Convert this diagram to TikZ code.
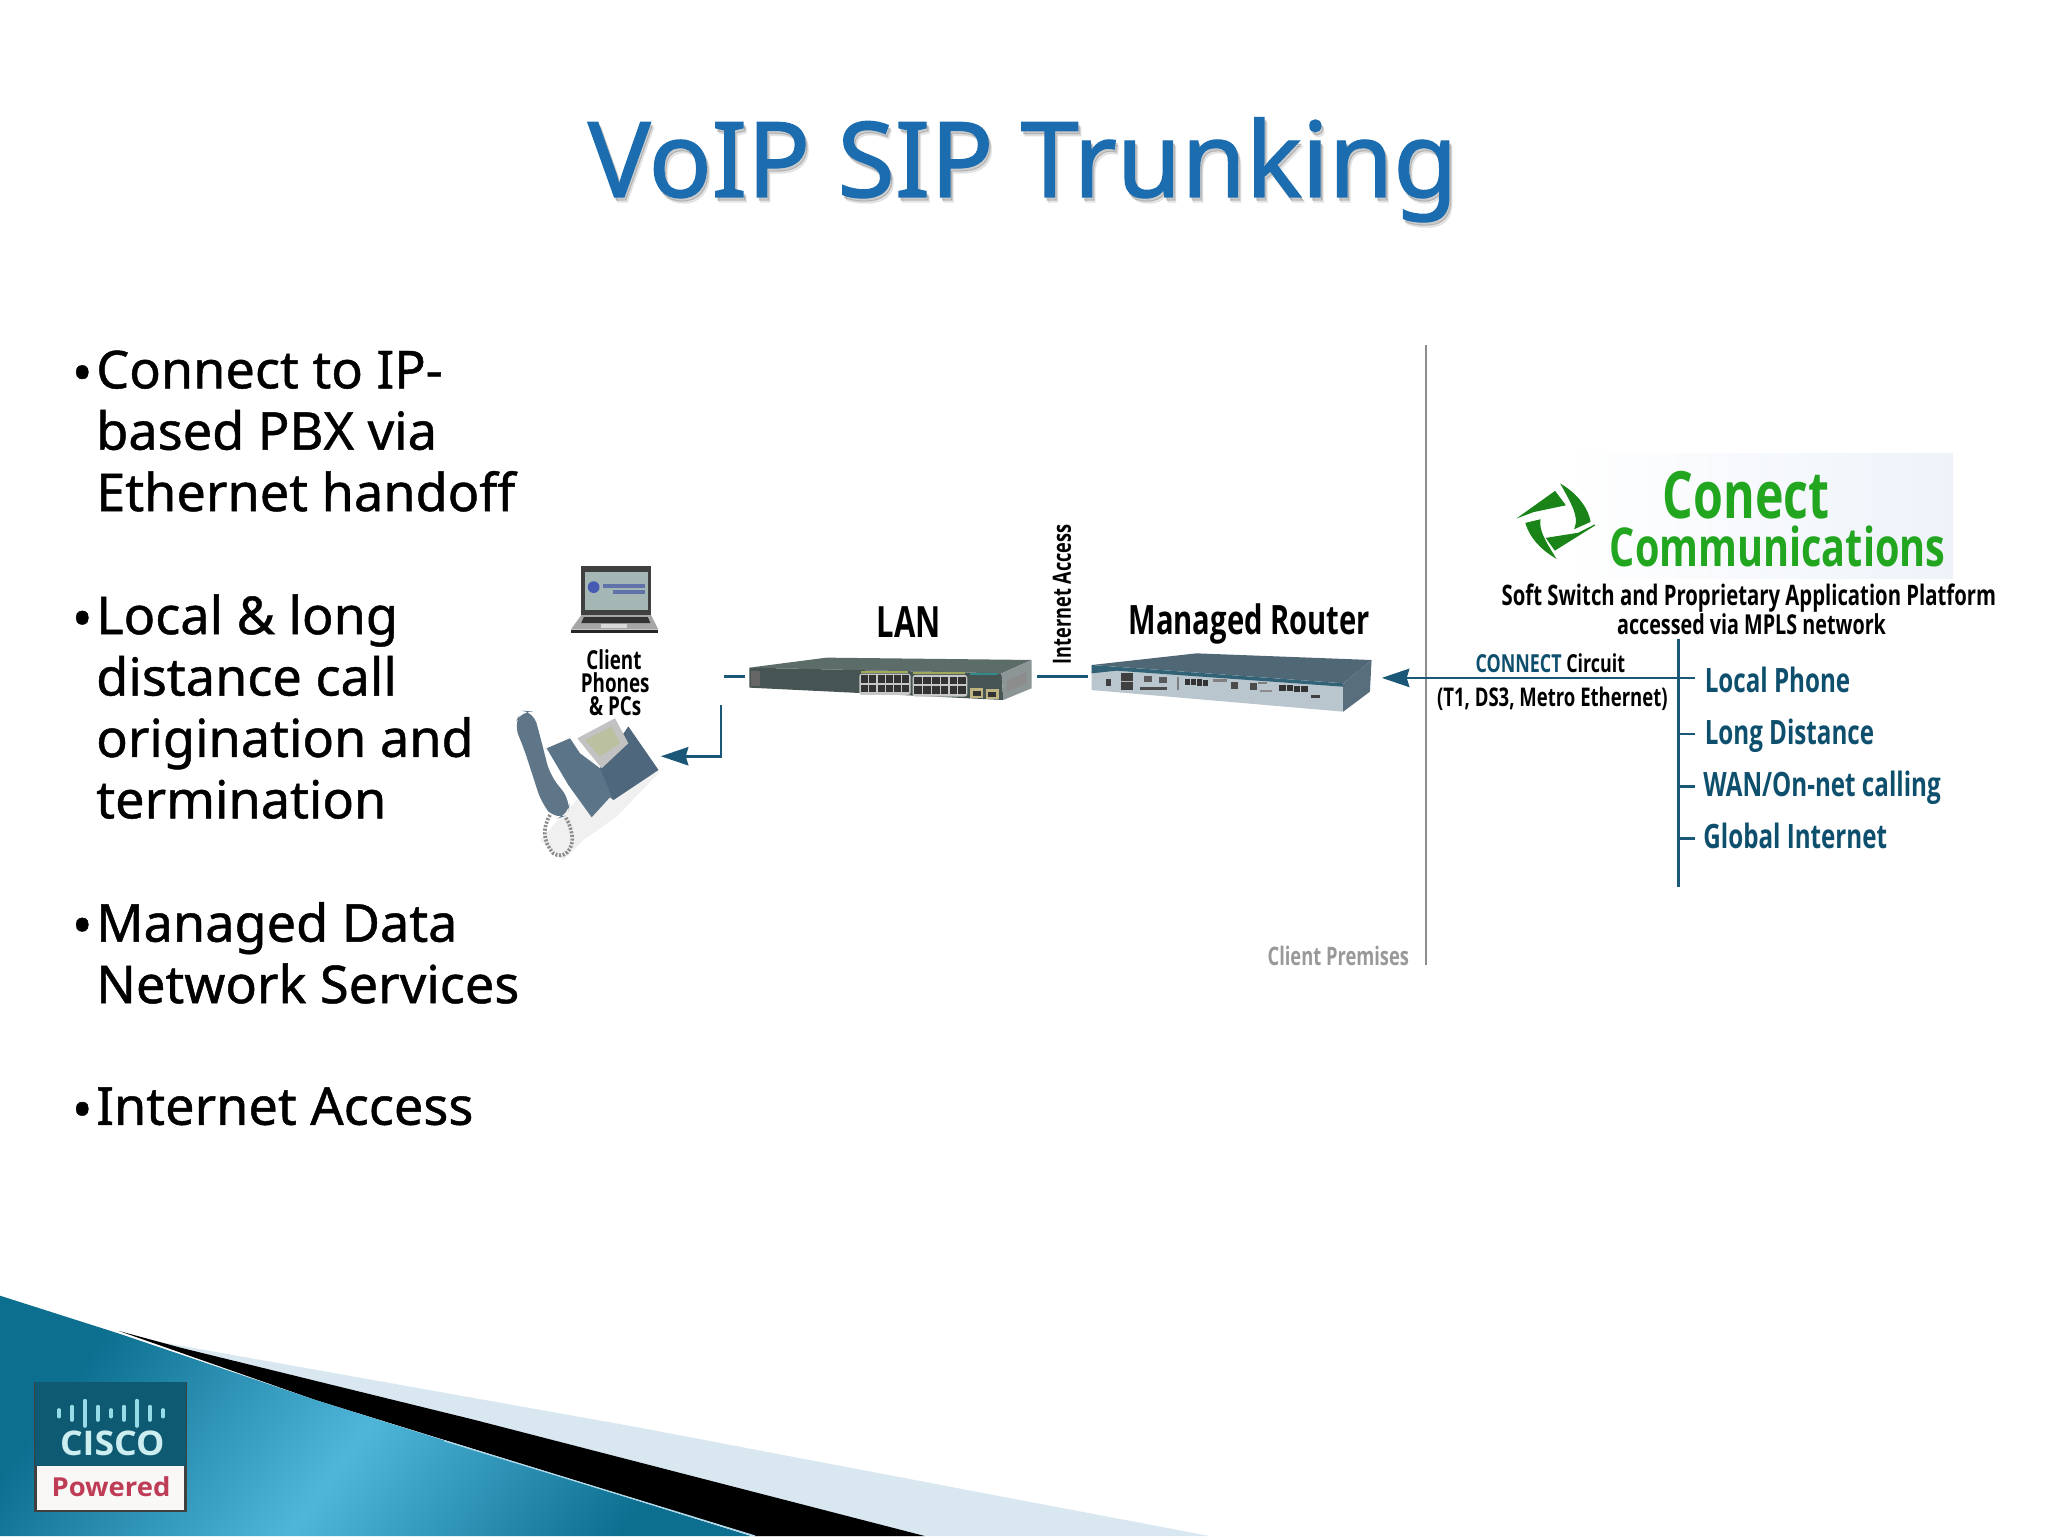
\documentclass[tikz,border=0pt]{standalone}
\usepackage{fontspec}
\usetikzlibrary{arrows.meta,shadings}
\setmainfont{Noto Sans}
\newfontfamily\bodyf[FakeBold=0.9]{Noto Sans}
\newfontfamily\titlef[FakeBold=1.3]{Noto Sans}
\newfontfamily\labf[FakeStretch=0.72]{Open Sans}
\newfontfamily\logof[FakeStretch=0.74]{Open Sans}
\newfontfamily\ciscof[FakeStretch=1.05]{Open Sans}
\definecolor{teal1}{HTML}{0F4F6E}
\definecolor{tealline}{HTML}{1B5878}
\definecolor{titleblue}{HTML}{1B6DB0}
\definecolor{cgreen}{HTML}{22A51F}
\definecolor{wedgeD}{HTML}{0C6F90}
\definecolor{wedgeB}{HTML}{4FB6DA}
\definecolor{wedgeL}{HTML}{D8E7F0}
\definecolor{logobg}{HTML}{EEF3FA}
\definecolor{handset}{HTML}{5F7689}
\definecolor{phoneA}{HTML}{5C7488}
\definecolor{phoneB}{HTML}{4E677C}
\tikzset{
  body/.style={anchor=west,align=left,inner sep=0pt,font=\bodyf\fontsize{40}{47}\selectfont},
  bul/.style={inner sep=0pt,font=\bodyf\fontsize{42}{47}\selectfont},
  titletxt/.style={inner sep=0pt,font=\titlef\fontsize{80}{90}\selectfont},
  lab/.style={inner sep=0pt,font=\labf\bfseries\fontsize{#1}{#1}\selectfont,text=black},
  svc/.style={anchor=base west,inner sep=0pt,text=teal1,font=\labf\bfseries\fontsize{25.7}{30}\selectfont},
  link/.style={draw=tealline,line width=2pt},
  linkarrow/.style={link,-{Stealth[length=21pt,width=14pt,inset=2pt]}},
  port/.style={fill=black!80},
  blade/.style={fill=cgreen!80!black,draw=cgreen!80!black,line width=.8pt},
}
\newcommand{\titlestr}{VoIP SIP Trunking}
\begin{document}
\begin{tikzpicture}[x=1pt,y=-1pt]
\useasboundingbox (0,0) rectangle (1568,1176);
\fill[white] (0,0) rectangle (1568,1176);
% wedge
\fill[wedgeL] (120,1027) -- (484,1092) -- (926,1176) -- (578,1176) -- cycle;
\fill[black] (91,1019) -- (139,1032) -- (363,1087) -- (708,1176) -- (578,1176) -- (242,1072) -- cycle;
\shade[left color=wedgeD,right color=wedgeD,middle color=wedgeB,shading angle=54]
  (0,992) -- (91,1021) -- (242,1072) -- (363,1110) -- (575,1176) -- (0,1176) -- cycle;
\draw[wedgeL!70!wedgeB,line width=1pt] (340,1103) -- (578,1176);
% cisco badge
\begin{scope}[shift={(19.1,1052.7)},x=.2552pt,y=-.2552pt]
  \fill[black!75] (28,22) rectangle (485,412);
  \fill[fill={rgb,255:red,15;green,90;blue,115}] (31,22) -- (482,22) -- (482,272) -- (31,272) -- cycle;
  \fill[fill={rgb,255:red,250;green,247;blue,247}] (36,274) -- (477,274) -- (477,404) -- (36,404) -- cycle;
  \foreach \xx/\hh in {102/10,141/20,180/38,219/20,258/10,297/20,336/38,375/20,414/10}
    \draw[line width=2.8pt,line cap=round,draw={rgb,255:red,150;green,220;blue,232}] (\xx,115-\hh) -- (\xx,115+\hh);
  \node[inner sep=0pt,text={rgb,255:red,205;green,238;blue,240},font=\ciscof\bfseries\fontsize{26}{26}\selectfont] (ciscotxt) at (262,205) {CISCO};
  \node[inner sep=0pt,text={rgb,255:red,190;green,60;blue,85},font=\ciscof\bfseries\fontsize{20}{20}\selectfont] (powered) at (258,335) {Powered};
\end{scope}
% title
\node[titletxt,text=black,opacity=.07] (titleshadowa) at (785.5,134) {\titlestr};
\node[titletxt,text=black,opacity=.14] (titleshadowb) at (784.5,132.5) {\titlestr};
\node[titletxt,text=titleblue] (title) at (783,130) {\titlestr};
% bullets
\node[bul] (b1) at (63,290) {•};
\node[body] (t1) at (73.5,330) {Connect to IP-\\based PBX via\\Ethernet handoff};
\node[bul] (b2) at (63,478) {•};
\node[body] (t2) at (73.5,541) {Local \& long\\distance call\\origination and\\termination};
\node[bul] (b3) at (63,713) {•};
\node[body] (t3) at (73.5,729.5) {Managed Data\\Network Services};
\node[bul] (b4) at (63,854) {•};
\node[body] (t4) at (73.5,847) {Internet Access};
% laptop
\fill[black!75] (445,433) rectangle (498.5,471);
\fill[fill={rgb,255:red,165;green,183;blue,180}] (448,438) rectangle (496,467);
\fill[fill={rgb,255:red,70;green,90;blue,180}] (454.5,449.5) circle (4.5);
\fill[fill={rgb,255:red,95;green,115;blue,170}] (462,447) rectangle (494,450);
\fill[fill={rgb,255:red,95;green,115;blue,170}] (469,452) rectangle (494,455);
\fill[black!35] (445,471) -- (498.5,471) -- (504,482) -- (437,482) -- cycle;
\fill[black!80] (447,472.5) -- (496,472.5) -- (498,477) -- (445,477) -- cycle;
\fill[black!85] (437,482) rectangle (504,485);
\fill[black!15] (460,478) rectangle (480,481);
% phone
\begin{scope}[shift={(382.8,535.9)},x=.2552pt,y=-.2552pt]
  \fill[black!6] (230,300) -- (480,215) -- (350,350) -- (250,420) -- (190,480) -- (120,420) -- cycle;
  \draw[draw=black!45,line width=2.8pt,dash pattern=on 1.6pt off 1.2pt] (150,345) .. controls (130,380) and (125,420) .. (160,460) .. controls (190,480) and (225,450) .. (215,400) .. controls (210,375) and (205,365) .. (195,350);
  \fill[phoneA] (140,145) -- (210,115) -- (240,160) -- (300,205) -- (385,80) -- (475,210) -- (340,300) -- (330,292) -- (275,352) -- (205,255) -- cycle;
  \fill[phoneB] (300,205) -- (385,80) -- (475,210) -- (340,300) -- cycle;
  \fill[black!24] (232,115) -- (345,55) -- (385,130) -- (305,205) -- cycle;
  \fill[fill={rgb,255:red,186;green,192;blue,160}] (255,120) -- (335,80) -- (360,130) -- (300,170) -- cycle;
  \fill[handset,rounded corners=9pt] (42,75) -- (65,32) -- (100,35) -- (118,100) -- (150,225) -- (210,300) -- (205,345) -- (165,358) -- (125,310) -- (70,140) -- cycle;
\end{scope}
% switch
\begin{scope}[shift={(566.5,493.8)},x=.2552pt,y=-.2552pt]
  \fill[fill={rgb,255:red,92;green,108;blue,104}] (28,68) -- (260,38) -- (875,45) -- (785,85) -- cycle;
  \fill[fill={rgb,255:red,70;green,84;blue,84}] (28,68) -- (785,85) -- (790,165) -- (28,128) -- cycle;
  \fill[fill={rgb,255:red,140;green,150;blue,150}] (785,85) -- (875,45) -- (875,130) -- (790,165) -- cycle;
  \fill[black!45] (800,110) -- (860,80) -- (860,115) -- (800,140) -- cycle;
  \fill[black!22,rounded corners=2pt] (358,86) rectangle (512,150);
  \fill[black!22,rounded corners=2pt] (518,90) rectangle (682,155);
  \fill[fill={rgb,255:red,160;green,170;blue,90}] (362,78) rectangle (505,84);
  \fill[fill={rgb,255:red,160;green,170;blue,90}] (520,82) rectangle (675,88);
  \fill[fill={rgb,255:red,50;green,140;blue,140}] (690,85) rectangle (775,91);
  \foreach \i in {0,...,5}{
    \fill[port] (364+\i*24.5,91) rectangle ++(21,23);
    \fill[port] (364+\i*24.5,119) rectangle ++(21,23);
    \fill[port] (523+\i*26.5,95) rectangle ++(23,23);
    \fill[port] (523+\i*26.5,124) rectangle ++(23,24);
  }
  \fill[fill={rgb,255:red,190;green,180;blue,130}] (690,130) rectangle (730,160);
  \fill[fill={rgb,255:red,190;green,180;blue,130}] (738,133) rectangle (776,163);
  \fill[port] (698,137) rectangle (722,152);
  \fill[port] (745,140) rectangle (769,155);
  \fill[black!60] (32,78) rectangle (60,122);
\end{scope}
% router
\begin{scope}[shift={(826.8,490)},x=.2552pt,y=-.2552pt]
  \fill[fill={rgb,255:red,80;green,104;blue,118}] (35,75) -- (350,40) -- (875,60) -- (790,130) -- cycle;
  \fill[fill={rgb,255:red,186;green,198;blue,206}] (35,75) -- (790,130) -- (790,215) -- (35,150) -- cycle;
  \fill[fill={rgb,255:red,50;green,98;blue,118}] (35,75) -- (790,130) -- (790,140) -- (110,92) -- (35,100) -- cycle;
  \fill[fill={rgb,255:red,88;green,110;blue,124}] (790,130) -- (875,60) -- (870,155) -- (790,215) -- cycle;
  \fill[black!75] (122,98) rectangle (160,150);
  \fill[black!30] (122,122) rectangle (160,127);
  \fill[black!75] (78,116) rectangle (92,138);
  \fill[black!65] (192,108) rectangle (215,126);
  \fill[black!65] (238,111) rectangle (260,130);
  \fill[black!70] (180,140) rectangle (262,150);
  \fill[black!50] (290,112) rectangle (298,150);
  \fill[black!50] (400,118) rectangle (440,126);
  \fill[black!50] (535,125) rectangle (560,133);
  \fill[black!45] (540,150) rectangle (575,157);
  \foreach \i in {0,1,2,3}{
    \fill[port] (314+\i*18.5,116+\i*1) rectangle ++(16,19);
    \fill[port] (598+\i*22,135+\i*1) rectangle ++(19,18);
  }
  \fill[black!70] (452,125) rectangle (473,147);
  \fill[black!70] (510,128) rectangle (531,149);
  \fill[black!75] (693,165) rectangle (720,174);
\end{scope}
% divider
\coordinate (divtop) at (1092,264);
\coordinate (divbot) at (1092,739);
\draw[draw=black!45,line width=1.6pt] (divtop) -- (divbot);
\node[lab=19.5,anchor=east,text=black!40] (premises) at (1079,732) {Client Premises};
% labels
\node[lab=20] (cl1) at (470,505) {Client};
\node[lab=20] (cl2) at (471,523) {Phones};
\node[lab=20] (cl3) at (471,541) {\& PCs};
\node[lab=33] (lan) at (696,476) {LAN};
\node[lab=31,anchor=base] (router) at (956.5,486) {Managed Router};
\node[lab=19.3,rotate=90] (inet) at (813,455) {Internet Access};
\node[lab=21.6] (soft) at (1339,458) {Soft Switch and Proprietary Application Platform};
\node[lab=21] (mpls) at (1341,478) {accessed via MPLS network};
\node[lab=19] (conn) at (1187,508) {\textcolor{teal1}{CONNECT} Circuit};
\node[lab=19.7] (t1ds3) at (1188.5,535) {(T1, DS3, Metro Ethernet)};
% service tree
\coordinate (treetop) at (1285,489);
\coordinate (treebot) at (1285,679);
\draw[link] (treetop) -- (treebot);
\node[svc] (s1) at (1305,530) {Local Phone};
\node[svc] (s2) at (1305,570) {Long Distance};
\node[svc] (s3) at (1304,610) {WAN/On-net calling};
\node[svc] (s4) at (1304,650) {Global Internet};
\coordinate (s1t) at (1298,519);
\coordinate (s2t) at (1298,562);
\coordinate (s2b) at (1285,562);
\coordinate (s3t) at (1298,602);
\coordinate (s3b) at (1285,602);
\coordinate (s4t) at (1298,642);
\coordinate (s4b) at (1285,642);
\draw[link] (s2b) -- (s2t);
\draw[link] (s3b) -- (s3t);
\draw[link] (s4b) -- (s4t);
\coordinate (routerR) at (1058,519);
\draw[linkarrow] (s1t) -- (routerR);
% LAN links
\coordinate (swL) at (554,518);
\coordinate (swLe) at (570,518);
\coordinate (swR) at (794,518);
\coordinate (rtL) at (833,518);
\draw[link] (swL) -- (swLe);
\draw[link] (swR) -- (rtL);
\coordinate (elbowtop) at (552,540);
\coordinate (elbow) at (552,579);
\coordinate (phoneR) at (506,579);
\draw[linkarrow] (elbowtop) -- (elbow) -- (phoneR);
% conect logo
\shade[left color=white,right color=logobg] (1195,347) rectangle (1495,443);
\begin{scope}[shift={(1148.4,359.8)},x=.2552pt,y=-.2552pt]
  \filldraw[blade] (60,140) -- (165,65) -- (195,105) -- (100,125) -- cycle;
  \filldraw[blade] (185,45) .. controls (235,75) and (265,120) .. (270,155) -- (225,175) .. controls (240,140) and (215,100) .. cycle;
  \filldraw[blade] (285,165) -- (165,240) -- (140,205) -- (235,190) -- cycle;
  \filldraw[blade] (78,160) -- (120,150) .. controls (115,180) and (135,215) .. (165,262) .. controls (120,235) and (90,200) .. cycle;
\end{scope}
\node[inner sep=0pt,text=cgreen,font=\logof\bfseries\fontsize{50}{50}\selectfont] (conect) at (1337,379) {Conect};
\node[inner sep=0pt,text=cgreen,font=\logof\bfseries\fontsize{41}{41}\selectfont] (comms) at (1361,418) {Communications};
\end{tikzpicture}
\end{document}
